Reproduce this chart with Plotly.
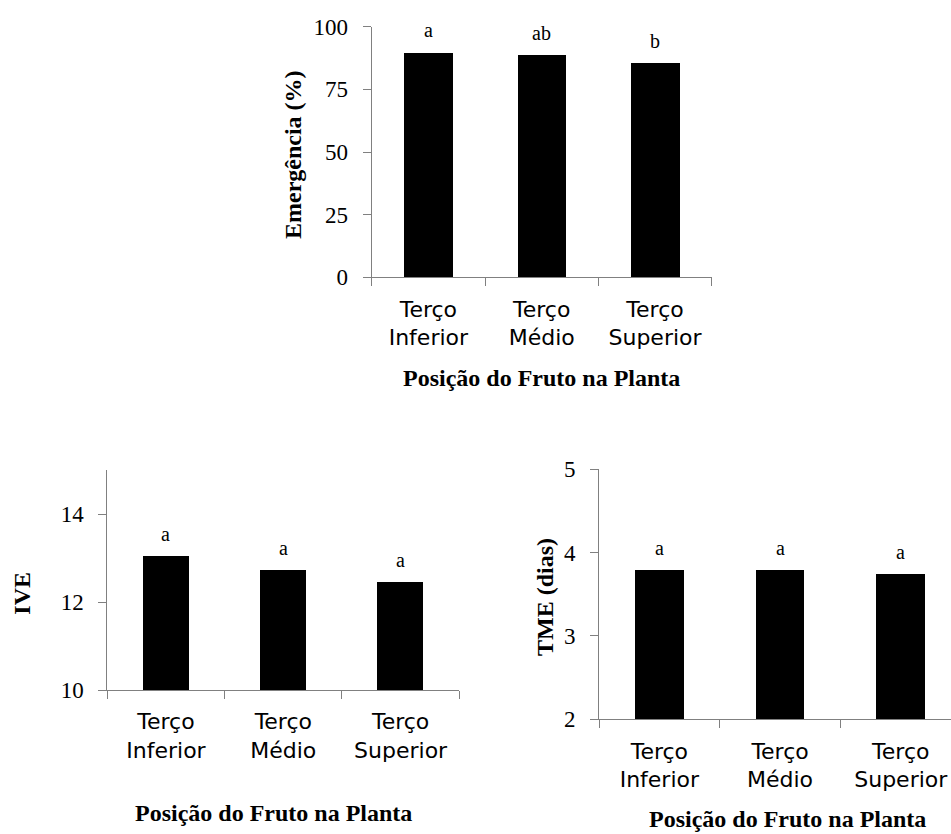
import plotly.graph_objects as go

# Data
categorias = ["Terço<br>Inferior", "Terço<br>Médio", "Terço<br>Superior"]

emergencia = [89.8, 88.7, 85.6]
letras_emergencia = ["a", "ab", "b"]

ive = [13.05, 12.73, 12.45]
letras_ive = ["a", "a", "a"]

tme = [3.79, 3.79, 3.74]
letras_tme = ["a", "a", "a"]

W, H = 951, 834

def px_x(p):
    return p / W

def px_y(p):
    return 1 - p / H

serif = "Liberation Serif, Times New Roman, serif"
sans = "DejaVu Sans, Verdana, sans-serif"
axis_gray = "#808080"

fig = go.Figure()

panels = [
    # (values, letters, axis suffix, bar width)
    (emergencia, letras_emergencia, "", 0.43),
    (ive, letras_ive, "2", 0.39),
    (tme, letras_tme, "3", 0.405),
]

for vals, letters, sfx, bw in panels:
    fig.add_trace(go.Bar(
        x=categorias, y=vals, width=bw,
        marker=dict(color="black", line=dict(width=0)),
        xaxis="x" + sfx, yaxis="y" + sfx,
        showlegend=False, hoverinfo="skip",
    ))
    for c, v, t in zip(categorias, vals, letters):
        fig.add_annotation(
            x=c, y=v, text=t, xref="x" + sfx, yref="y" + sfx,
            showarrow=False, yanchor="middle", yshift=22,
            font=dict(family=serif, size=20, color="black"),
        )

xcommon = dict(
    type="category", showline=True, linecolor=axis_gray, linewidth=1,
    ticks="outside", tickson="boundaries", ticklen=8, tickcolor=axis_gray,
    showgrid=False, zeroline=False, fixedrange=True, automargin=False,
    ticklabelstandoff=12,
    tickfont=dict(family=sans, size=22, color="black"),
)
ycommon = dict(
    showline=True, linecolor=axis_gray, linewidth=1,
    ticks="outside", ticklen=8, tickcolor=axis_gray,
    showgrid=False, zeroline=False, fixedrange=True, automargin=False,
    ticklabelstandoff=10,
    tickfont=dict(family=serif, size=23, color="black"),
)

fig.update_layout(
    width=W, height=H, autosize=False,
    margin=dict(l=0, r=0, t=0, b=0),
    paper_bgcolor="white", plot_bgcolor="white",
    bargap=0,
    xaxis=dict(xcommon, domain=[px_x(371.7), px_x(711.7)], anchor="y",
               range=[-0.5, 2.5]),
    yaxis=dict(ycommon, domain=[px_y(277.3), px_y(26.7)], anchor="x",
               range=[0, 100], tickvals=[0, 25, 50, 75, 100]),
    xaxis2=dict(xcommon, domain=[px_x(107.3), px_x(459.3)], anchor="y2",
                range=[-0.5, 2.5]),
    yaxis2=dict(ycommon, domain=[px_y(690), px_y(470)], anchor="x2",
                range=[10, 15], tickvals=[10, 12, 14]),
    xaxis3=dict(xcommon, domain=[px_x(599), 1.0], anchor="y3",
                range=[-0.5, -0.5 + (951 - 599) / 120.7]),
    yaxis3=dict(ycommon, domain=[px_y(719.3), px_y(469.3)], anchor="x3",
                range=[2, 5], tickvals=[2, 3, 4, 5]),
)

titulo_x = "Posição do Fruto na Planta"
title_font = dict(family=serif, size=24, color="black", weight="bold")

# Axis titles
for x, y, t in [(541, 378, titulo_x), (273, 813, titulo_x), (787.5, 819, titulo_x)]:
    fig.add_annotation(x=px_x(x), y=px_y(y), xref="paper", yref="paper",
                       text=t, showarrow=False, xanchor="center",
                       yanchor="middle", font=title_font)

for x, y, t in [(293, 155, "Emergência (%)"), (21.7, 593, "IVE"),
                (545, 597, "TME (dias)")]:
    fig.add_annotation(x=px_x(x), y=px_y(y), xref="paper", yref="paper",
                       text=t, showarrow=False, textangle=-90,
                       xanchor="center", yanchor="middle", font=title_font)

fig.write_html("out.html")
